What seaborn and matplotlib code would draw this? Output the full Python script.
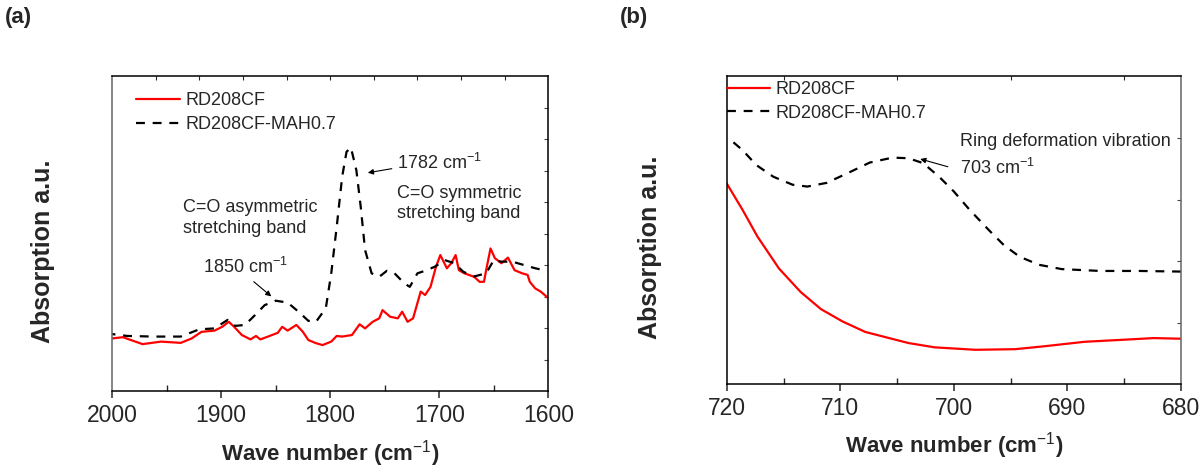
import numpy as np
import pandas as pd
import matplotlib
matplotlib.use('Agg')
import matplotlib.pyplot as plt
import seaborn as sns

sns.set_style('ticks')
plt.rcParams['font.family'] = ['Liberation Sans', 'DejaVu Sans']
plt.rcParams['mathtext.fontset'] = 'custom'
plt.rcParams['mathtext.rm'] = 'Liberation Sans'
plt.rcParams['mathtext.bf'] = 'Liberation Sans:bold'

# (a) 2000-1600 cm-1, absorption in arbitrary units
wn_a_red = [2000, 1990, 1972, 1955, 1937, 1927, 1918, 1906, 1899, 1893, 1888, 1881, 1873, 1868,
            1864, 1857, 1848, 1844, 1839, 1831, 1825, 1820, 1813, 1807, 1799, 1794, 1789, 1780,
            1773, 1768, 1761, 1755, 1752, 1745, 1738, 1734, 1729, 1724, 1717, 1713, 1708, 1703,
            1699, 1693, 1689, 1685, 1682, 1677, 1668, 1663, 1659, 1657, 1653, 1649, 1643, 1637,
            1631, 1624, 1619, 1617, 1612, 1607, 1600]
abs_a_red = [1.67, 1.71, 1.49, 1.57, 1.53, 1.67, 1.88, 1.92, 2.04, 2.20, 2.04, 1.78, 1.64, 1.75,
             1.64, 1.73, 1.85, 2.04, 1.92, 2.10, 1.88, 1.62, 1.52, 1.46, 1.57, 1.75, 1.73, 1.78,
             2.12, 1.99, 2.20, 2.31, 2.57, 2.36, 2.31, 2.52, 2.20, 2.31, 3.16, 3.05, 3.31, 3.95,
             4.32, 3.90, 4.06, 4.32, 3.84, 3.74, 3.63, 3.47, 3.47, 3.84, 4.53, 4.22, 4.06, 4.24,
             3.84, 3.74, 3.69, 3.47, 3.26, 3.16, 2.95]

wn_a_mah = [2000, 1986, 1962, 1937, 1920, 1906, 1894, 1887, 1878, 1869, 1860, 1850, 1839, 1829,
            1820, 1813, 1804, 1799, 1794, 1789, 1785, 1781, 1776, 1772, 1768, 1762, 1755, 1748,
            1741, 1732, 1727, 1720, 1713, 1704, 1695, 1686, 1678, 1668, 1657, 1650, 1643, 1633,
            1622, 1612, 1608]
abs_a_mah = [1.81, 1.75, 1.73, 1.73, 1.96, 1.99, 2.26, 2.07, 2.10, 2.41, 2.73, 2.87, 2.81, 2.52,
             2.23, 2.20, 2.63, 3.74, 5.22, 6.81, 7.60, 7.74, 7.02, 5.86, 4.48, 3.74, 3.63, 3.82,
             3.74, 3.42, 3.31, 3.74, 3.82, 3.95, 4.16, 4.06, 3.79, 3.64, 3.74, 4.16, 4.11, 4.11,
             4.00, 3.90, 3.87]

# (b) 720-680 cm-1
wn_b_red = [720, 718.6, 717.3, 715.4, 713.5, 711.7, 709.8, 707.8, 705.7, 704.0, 701.7, 698.1,
            694.6, 691.9, 688.5, 685.4, 682.4, 680]
abs_b_red = [3.26, 2.83, 2.40, 1.88, 1.50, 1.22, 1.02, 0.85, 0.75, 0.67, 0.60, 0.56,
             0.57, 0.62, 0.69, 0.72, 0.75, 0.74]

wn_b_mah = [719.8, 718.6, 717.4, 715.9, 714.2, 712.9, 711.2, 709.1, 707.4, 705.4, 704.0, 702.7,
            701.3, 700.0, 698.6, 696.9, 695.6, 694.2, 692.5, 690.5, 687.1, 683.7, 680]
abs_b_mah = [3.99, 3.80, 3.56, 3.37, 3.24, 3.21, 3.27, 3.45, 3.60, 3.68, 3.67, 3.59,
             3.37, 3.13, 2.83, 2.50, 2.26, 2.07, 1.94, 1.87, 1.84, 1.84, 1.83]

names = ['RD208CF', 'RD208CF-MAH0.7']
palette = {names[0]: '#ff0000', names[1]: 'black'}
dashes = {names[0]: '', names[1]: (4, 3.5)}


def make_df(x1, y1, x2, y2):
    d1 = pd.DataFrame({'wn': x1, 'abs': y1, 'sample': names[0]})
    d2 = pd.DataFrame({'wn': x2, 'abs': y2, 'sample': names[1]})
    return pd.concat([d1, d2], ignore_index=True)


df_a = make_df(wn_a_red, abs_a_red, wn_a_mah, abs_a_mah)
df_b = make_df(wn_b_red, abs_b_red, wn_b_mah, abs_b_mah)

fig = plt.figure(figsize=(12.03, 4.67), dpi=100)
ax1 = fig.add_axes([0.0931, 0.1627, 0.3627, 0.6739])
ax2 = fig.add_axes([0.6041, 0.1771, 0.3776, 0.6595])

for ax, df in [(ax1, df_a), (ax2, df_b)]:
    sns.lineplot(data=df, x='wn', y='abs', hue='sample', style='sample', palette=palette,
                 dashes=dashes, estimator=None, sort=True, lw=1.6, ax=ax)
    for sp in ax.spines.values():
        sp.set_visible(True)
        sp.set_linewidth(1.1)
        sp.set_color('black')
    ax.tick_params(axis='y', which='both', left=False, right=True, direction='in', length=3,
                   labelleft=False, labelright=False, color='#444444')
    ax.tick_params(axis='x', which='major', direction='out', length=5, width=1.1, labelsize=16.5, pad=4)
    ax.tick_params(axis='x', which='minor', direction='in', length=4, width=1)
    ax.set_xlabel(r'Wave number (cm$^{-1}$)', fontsize=16, fontweight='bold')
    ax.set_ylabel('Absorption a.u.', fontsize=18, fontweight='bold')
    ax.legend(frameon=False, fontsize=13, handlelength=2.4, handletextpad=0.3,
              labelspacing=0.38, borderpad=0, borderaxespad=0, loc='upper left')

ax1.spines['left'].set_color('#666666')
ax2.spines['right'].set_color('#666666')

# panel (a)
ax1.set_xlim(2000, 1600)
ax1.set_ylim(0, 10)
ax1.set_xticks([2000, 1900, 1800, 1700, 1600])
ax1.set_xticks([1950, 1850, 1750, 1650], minor=True)
ax1.set_yticks(range(1, 10))
top1 = ax1.secondary_xaxis('top')
top1.set_xticks(range(1960, 1600, -40))
top1.tick_params(direction='in', length=3, labeltop=False)
top1.spines['top'].set_visible(False)
ax1.xaxis.set_label_coords(0.5, -0.15)
ax1.yaxis.set_label_coords(-0.131, 0.445)
ax1.get_legend().set_bbox_to_anchor((0.056, 0.95))

ax1.text(1935, 5.5, 'C=O asymmetric\nstretching band', fontsize=13, ha='left', va='center',
         linespacing=1.3)
ax1.text(1917, 3.95, r'1850 cm$^{-1}$', fontsize=13, ha='left', va='center')
ax1.annotate('', xy=(1852, 2.95), xytext=(1872, 3.53),
             arrowprops=dict(arrowstyle='-|>', color='black', lw=0.8, mutation_scale=8))
ax1.text(1739, 7.24, r'1782 cm$^{-1}$', fontsize=13, ha='left', va='center')
ax1.annotate('', xy=(1768, 6.92), xytext=(1741, 7.08),
             arrowprops=dict(arrowstyle='-|>', color='black', lw=0.8, mutation_scale=8))
ax1.text(1739, 5.96, 'C=O symmetric\nstretching band', fontsize=13, ha='left', va='center',
         linespacing=1.3)

# panel (b)
ax2.set_xlim(720, 680)
ax2.set_ylim(0, 5)
ax2.set_xticks([720, 710, 700, 690, 680])
ax2.set_xticks([715, 705, 695, 685], minor=True)
ax2.set_yticks(range(1, 5))
top2 = ax2.secondary_xaxis('top')
top2.set_xticks([715, 705, 695, 685])
top2.tick_params(direction='in', length=3, labeltop=False)
top2.spines['top'].set_visible(False)
ax2.xaxis.set_label_coords(0.5, -0.15)
ax2.yaxis.set_label_coords(-0.143, 0.446)
ax2.get_legend().set_bbox_to_anchor((0.0, 0.985))

ax2.text(699.5, 3.94, 'Ring deformation vibration', fontsize=13, ha='left', va='center')
ax2.text(699.5, 3.51, r'703 cm$^{-1}$', fontsize=13, ha='left', va='center')
ax2.annotate('', xy=(703.2, 3.67), xytext=(700.3, 3.52),
             arrowprops=dict(arrowstyle='-|>', color='black', lw=0.8, mutation_scale=8))

fig.text(0.004, 0.985, '(a)', fontsize=16, fontweight='bold', ha='left', va='top')
fig.text(0.515, 0.985, '(b)', fontsize=16, fontweight='bold', ha='left', va='top')

fig.savefig('out.png', dpi=100)
